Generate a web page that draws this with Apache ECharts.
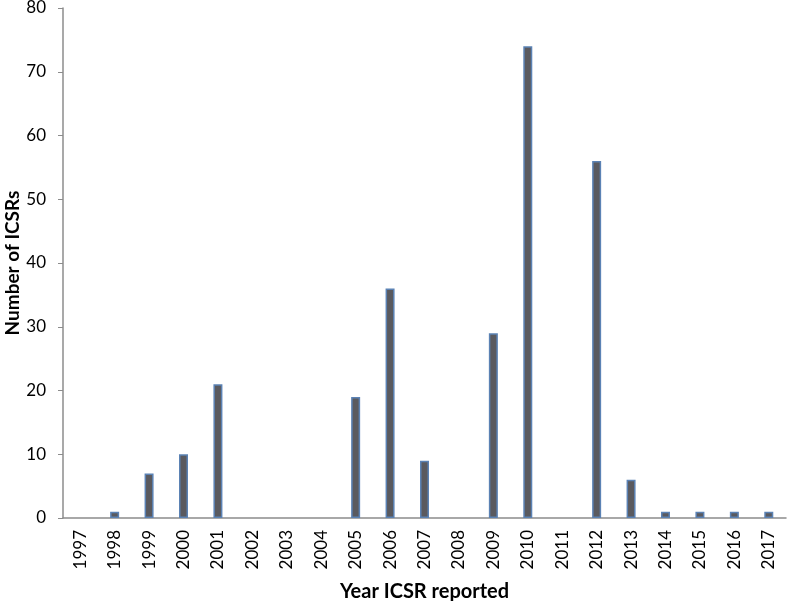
<!DOCTYPE html>
<html>
<head>
<meta charset="utf-8">
<script src="https://cdn.jsdelivr.net/npm/echarts@6/dist/echarts.min.js"></script>
<style>
  html, body { margin: 0; padding: 0; background: #fff; }
  #main { width: 787px; height: 601px; }
</style>
</head>
<body>
<div id="main"></div>
<script>
var years = ['1997', '1998', '1999', '2000', '2001', '2002', '2003', '2004', '2005', '2006', '2007',
    '2008', '2009', '2010', '2011', '2012', '2013', '2014', '2015', '2016', '2017']
var icsrs = [0, 1, 7, 10, 21, 0, 0, 0, 19, 36, 9, 0, 29, 74, 0, 56, 6, 1, 1, 1, 1]
var yTicks = [0, 80, 10]

var font = 'Lato, "Open Sans", sans-serif'
var chart = echarts.init(document.getElementById('main'))

// zero years get no bar at all (otherwise the border draws a sliver)
var barData = icsrs.map(function (v) { return v === 0 ? '-' : v })

var option = {
    animation: false,
    grid: { left: 63, right: 1, top: 8, bottom: 83, containLabel: false, outerBoundsMode: 'none' },
    xAxis: {
        type: 'category',
        data: years,
        name: 'Year ICSR reported',
        nameLocation: 'middle',
        nameGap: 64,
        nameMoveOverlap: false,
        nameTextStyle: { fontFamily: font, fontSize: 20, fontWeight: 'bold', color: '#000' },
        axisLine: { lineStyle: { color: '#8c8c8c', width: 1.5 } },
        axisTick: { show: false },
        axisLabel: { rotate: 90, fontFamily: font, fontSize: 17, color: '#000', margin: 12, interval: 0 }
    },
    yAxis: {
        type: 'value',
        min: yTicks[0],
        max: yTicks[1],
        interval: yTicks[2],
        name: 'Number of ICSRs',
        nameLocation: 'middle',
        nameGap: 41,
        nameMoveOverlap: false,
        nameTextStyle: { fontFamily: font, fontSize: 19, fontWeight: 'bold', color: '#000' },
        axisLine: { show: true, lineStyle: { color: '#8c8c8c', width: 1.5 } },
        axisTick: { show: true, length: 5, lineStyle: { color: '#8c8c8c' } },
        splitLine: { show: false },
        axisLabel: { fontFamily: font, fontSize: 17, color: '#000', margin: 17 }
    },
    series: [{
        type: 'bar',
        data: barData,
        barWidth: 9,
        itemStyle: { color: '#5a5a5f', borderColor: '#5b82b4', borderWidth: 1.5 }
    }]
}

chart.setOption(option)
</script>
</body>
</html>
